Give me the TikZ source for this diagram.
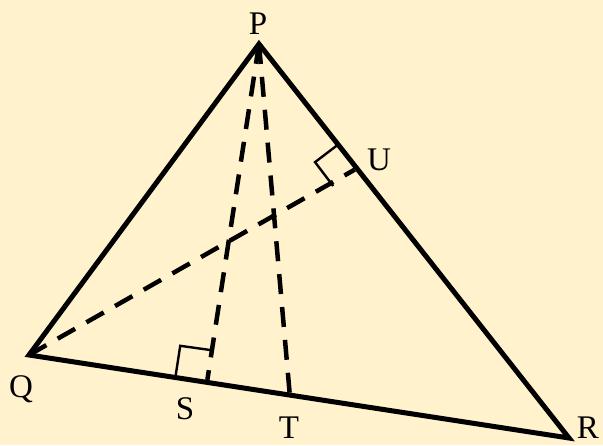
\documentclass[tikz,border=0pt]{standalone}
\usepackage{fontspec}
\setmainfont{Liberation Serif}
\usetikzlibrary{calc}
\definecolor{paper}{HTML}{FFF2CC}

\begin{document}
\begin{tikzpicture}[x=1pt, y=-1pt,
    side/.style={line width=5pt, line join=miter},
    aux/.style={line width=4.5pt, dash pattern=on 20pt off 13pt},
    rightmark/.style={line width=2.4pt},
    vlabel/.style={font=\fontsize{33}{33}\selectfont, inner sep=0pt,
                   text height=22pt, text depth=0pt}]
  % page with its margins
  \fill[paper] (0,0) rectangle (603,445);
  \useasboundingbox (0,0) rectangle (603,445);
  % vertices
  \coordinate (P) at (259,44);
  \coordinate (Q) at (29,355);
  \coordinate (R) at (569,438);
  % feet, set on the inner edge of the sides
  \coordinate (S0) at ($(Q)!(P)!(R)$);
  \coordinate (S) at ($(S0)!2.5pt!(P)$);
  \coordinate (T) at ($(Q)!0.483!(R)$);
  \coordinate (U0) at ($(P)!0.315!(R)$);
  \coordinate (U) at ($(U0)!2.5pt!90:(P)$);
  % triangle
  \draw[side] (P) -- (Q) -- (R) -- cycle;
  % dashed segments
  \draw[aux] (P) -- (S);
  \draw[aux] (P) -- (T);
  \draw[aux] (Q) -- (U);
  % right angle at S
  \coordinate (sa) at ($(S)!32pt!(Q)$);
  \coordinate (sb) at ($(S)!30pt!(P)$);
  \draw[rightmark] (sa) -- ($(sa)+(sb)-(S)$) -- (sb);
  % right angle at U
  \coordinate (ua) at ($(U)!30pt!(P)$);
  \coordinate (ub) at ($(U)!27pt!90:(P)$);
  \draw[rightmark] (ua) -- ($(ua)+(ub)-(U)$) -- (ub);
  % labels
  \node[vlabel] (lP) at (258,23) {P};
  \node[vlabel] (lQ) at (21,386) {Q};
  \node[vlabel] (lR) at (588,427) {R};
  \node[vlabel] (lS) at (185,408) {S};
  \node[vlabel] (lT) at (289,427) {T};
  \node[vlabel] (lU) at (379,159) {U};
\end{tikzpicture}
\end{document}
